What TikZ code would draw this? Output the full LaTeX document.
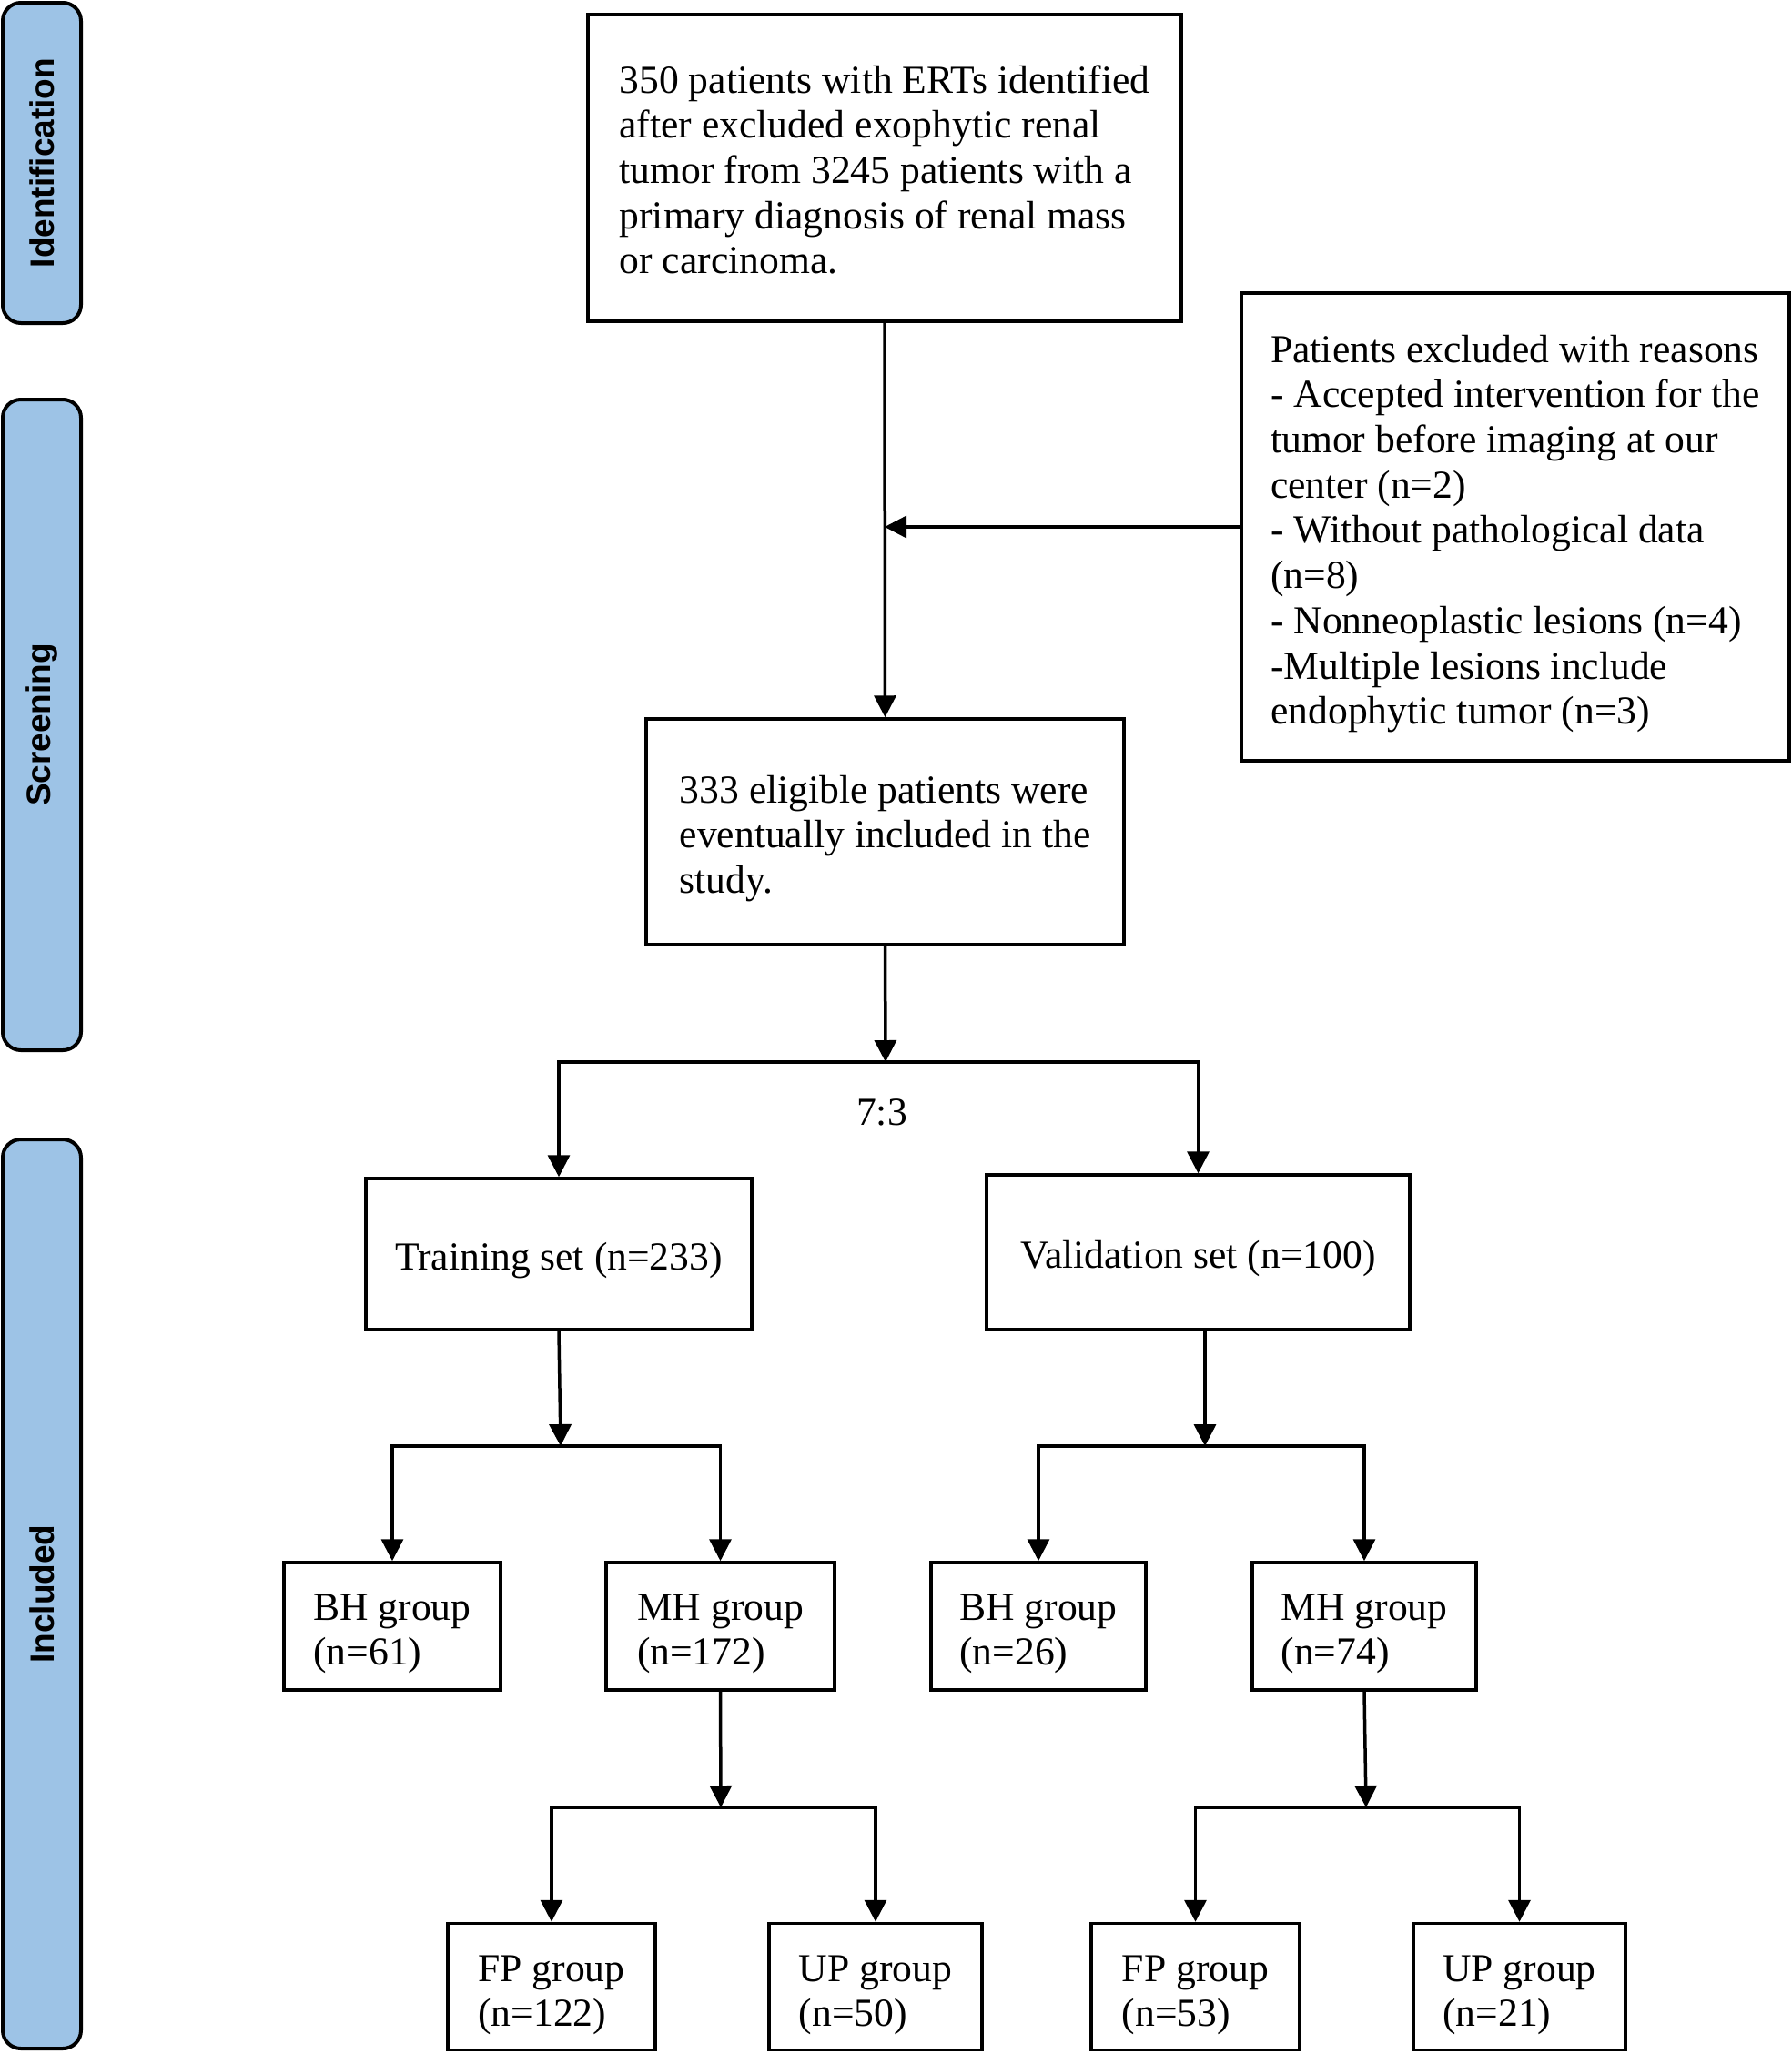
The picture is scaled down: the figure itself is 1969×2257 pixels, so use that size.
\documentclass[tikz,border=0pt]{standalone}
\usepackage{fontspec}
\setmainfont{Liberation Serif}
\newfontfamily\sidefont{Liberation Sans}
\usetikzlibrary{arrows.meta}
\definecolor{barblue}{RGB}{157,195,230}
\newcommand{\lowtext}[2][8pt]{\raisebox{-#1}[\height][\depth]{\begin{tabular}{@{}l@{}}#2\end{tabular}}}
\begin{document}
\begin{tikzpicture}[x=1pt,y=-1pt,
  box/.style={draw, line width=3.5pt, inner sep=0pt,
    font=\fontsize{43.6}{49.7}\selectfont},
  bar/.style={draw, line width=4pt, fill=barblue, rounded corners=20pt, inner sep=0pt},
  barlabel/.style={font=\sidefont\bfseries\fontsize{37}{40}\selectfont, rotate=90},
  arr/.style={line width=3.5pt, -{Triangle[length=24pt,width=24pt]}},
  plain/.style={font=\fontsize{43.6}{49.7}\selectfont}]
\useasboundingbox (0,0) rectangle (1969,2257);
% side bars
\node[bar, minimum width=86pt, minimum height=352pt] (idbar) at (46,179) {};
\node[barlabel] (idlab) at (idbar.center) {Identification};
\node[bar, minimum width=86pt, minimum height=715pt] (scbar) at (46,796.5) {};
\node[barlabel] (sclab) at (scbar.center) {Screening};
\node[bar, minimum width=86pt, minimum height=999pt] (inbar) at (46,1751.5) {};
\node[barlabel] (inlab) at (inbar.center) {Included};
% boxes
\node[box, minimum width=652pt, minimum height=337pt] (b1) at (972,184.5)
  {\lowtext[7pt]{350 patients with ERTs identified\\after excluded exophytic renal\\tumor from 3245 patients with a\\primary diagnosis of renal mass\\or carcinoma.}};
\node[box, minimum width=602pt, minimum height=514pt] (ex) at (1665,579)
  {\lowtext{Patients excluded with reasons\\- Accepted intervention for the\\tumor before imaging at our\\center (n=2)\\- Without pathological data\\(n=8)\\- Nonneoplastic lesions (n=4)\\-Multiple lesions include\\endophytic tumor (n=3)}};
\node[box, minimum width=525pt, minimum height=248pt] (b2) at (972.5,914)
  {\lowtext{333 eligible patients were\\eventually included in the\\study.}};
\node[box, minimum width=424pt, minimum height=166pt] (tr) at (614,1378) {\lowtext{Training set (n=233)}};
\node[box, minimum width=465pt, minimum height=170pt] (va) at (1316.5,1376) {\lowtext{Validation set (n=100)}};
\node[box, minimum width=238pt, minimum height=140pt] (bh1) at (431,1787) {\lowtext{BH group\\(n=61)}};
\node[box, minimum width=251pt, minimum height=140pt] (mh1) at (791.5,1787) {\lowtext{MH group\\(n=172)}};
\node[box, minimum width=236pt, minimum height=140pt] (bh2) at (1141,1787) {\lowtext{BH group\\(n=26)}};
\node[box, minimum width=246pt, minimum height=140pt] (mh2) at (1499,1787) {\lowtext{MH group\\(n=74)}};
\node[box, minimum width=228pt, minimum height=139pt] (fp1) at (606,2183) {\lowtext[9pt]{FP group\\(n=122)}};
\node[box, minimum width=234pt, minimum height=139pt] (up1) at (962,2183) {\lowtext[9pt]{UP group\\(n=50)}};
\node[box, minimum width=229pt, minimum height=139pt] (fp2) at (1313.5,2183) {\lowtext[9pt]{FP group\\(n=53)}};
\node[box, minimum width=233pt, minimum height=139pt] (up2) at (1669.5,2183) {\lowtext[9pt]{UP group\\(n=21)}};
\node[plain] (ratio) at (969,1222) {7:3};
% junctions
\coordinate (j1) at (973,1167);
\coordinate (j2) at (616,1589);
\coordinate (j3) at (1324,1589);
\coordinate (j4) at (792,1986);
\coordinate (j5) at (1501,1986);
% connectors
\draw[arr] (b1.south) -- (b2.north);
\draw[arr] (ex.west) -- (ex.west -| b1.south);
\draw[arr] (b2.south) -- (j1);
\draw[arr] (j1) -| (tr.north);
\draw[arr] (j1) -| (va.north);
\draw[arr] (tr.south) -- (j2);
\draw[arr] (j2) -| (bh1.north);
\draw[arr] (j2) -| (mh1.north);
\draw[arr] (j3 |- va.south) -- (j3);
\draw[arr] (j3) -| (bh2.north);
\draw[arr] (j3) -| (mh2.north);
\draw[arr] (mh1.south) -- (j4);
\draw[arr] (j4) -| (fp1.north);
\draw[arr] (j4) -| (up1.north);
\draw[arr] (mh2.south) -- (j5);
\draw[arr] (j5) -| (fp2.north);
\draw[arr] (j5) -| (up2.north);
\end{tikzpicture}
\end{document}
